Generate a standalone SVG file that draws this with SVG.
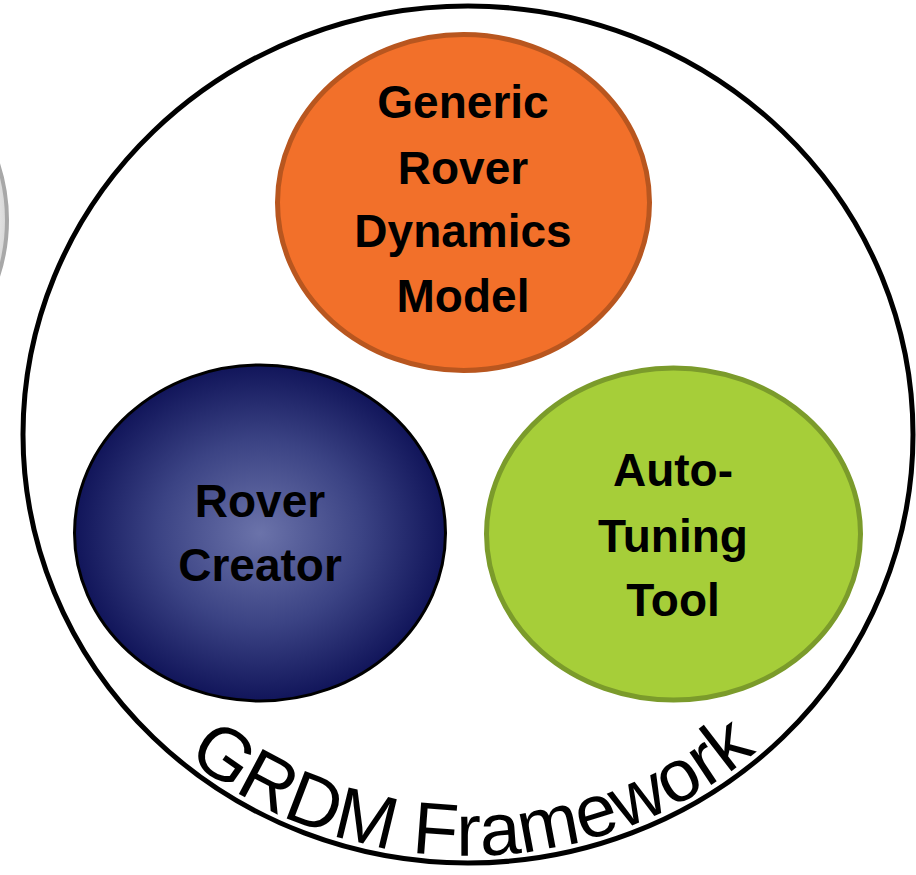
<svg xmlns="http://www.w3.org/2000/svg" xmlns:xlink="http://www.w3.org/1999/xlink" width="916" height="875" viewBox="0 0 916 875">
  <style>
    .label { font-family: "Liberation Sans", Arial, Helvetica, sans-serif; font-weight: bold; font-size: 46px; fill: #000; text-anchor: middle; }
    .frame-label { font-family: "Liberation Sans", Arial, Helvetica, sans-serif; font-size: 74px; fill: #000; }
    .frame { fill: none; stroke: #000; stroke-width: 5; }
  </style>
  <defs>
    <radialGradient id="blueGlow" cx="50%" cy="50%" r="50%">
      <stop offset="0" stop-color="#6B73AA"/>
      <stop offset="0.55" stop-color="#3B4384"/>
      <stop offset="1" stop-color="#11155A"/>
    </radialGradient>
    <radialGradient id="greyGlow" cx="50%" cy="50%" r="50%">
      <stop offset="0.85" stop-color="#FFFFFF"/>
      <stop offset="1" stop-color="#D6D6D6"/>
    </radialGradient>
    <!-- baseline for the curved framework title, running left to right along the bottom -->
    <path id="frameArc" d="M 36.7 507.7 A 438 421.5 0 0 0 899.3 507.7"/>
  </defs>

  <rect width="916" height="875" fill="#FFFFFF"/>

  <!-- neighbouring element, cut off at the left edge -->
  <circle cx="-175" cy="220" r="182" fill="url(#greyGlow)" stroke="#A8A8A8" stroke-width="4"/>

  <!-- outer framework boundary -->
  <g id="framework">
    <ellipse class="frame" cx="468" cy="434.5" rx="445" ry="428.5"/>
    <text class="frame-label"><textPath xlink:href="#frameArc" href="#frameArc" startOffset="50.4%" text-anchor="middle">GRDM Framework</textPath></text>
  </g>

  <g id="generic-rover-dynamics-model">
    <ellipse cx="463.5" cy="202.5" rx="186" ry="168" fill="#F2702A" stroke="#B8561F" stroke-width="5"/>
    <text class="label" x="463" y="118">Generic</text>
    <text class="label" x="463" y="184">Rover</text>
    <text class="label" x="463" y="247">Dynamics</text>
    <text class="label" x="463" y="312">Model</text>
  </g>

  <g id="rover-creator">
    <ellipse cx="260" cy="533" rx="185.5" ry="168" fill="url(#blueGlow)" stroke="#000" stroke-width="3"/>
    <text class="label" x="260" y="517">Rover</text>
    <text class="label" x="260" y="581">Creator</text>
  </g>

  <g id="auto-tuning-tool">
    <ellipse cx="673.5" cy="534" rx="187" ry="166" fill="#A6CE39" stroke="#7B9B2B" stroke-width="5"/>
    <text class="label" x="673" y="486">Auto-</text>
    <text class="label" x="673" y="552">Tuning</text>
    <text class="label" x="673" y="616">Tool</text>
  </g>

  <g id="connectors"/>
</svg>
